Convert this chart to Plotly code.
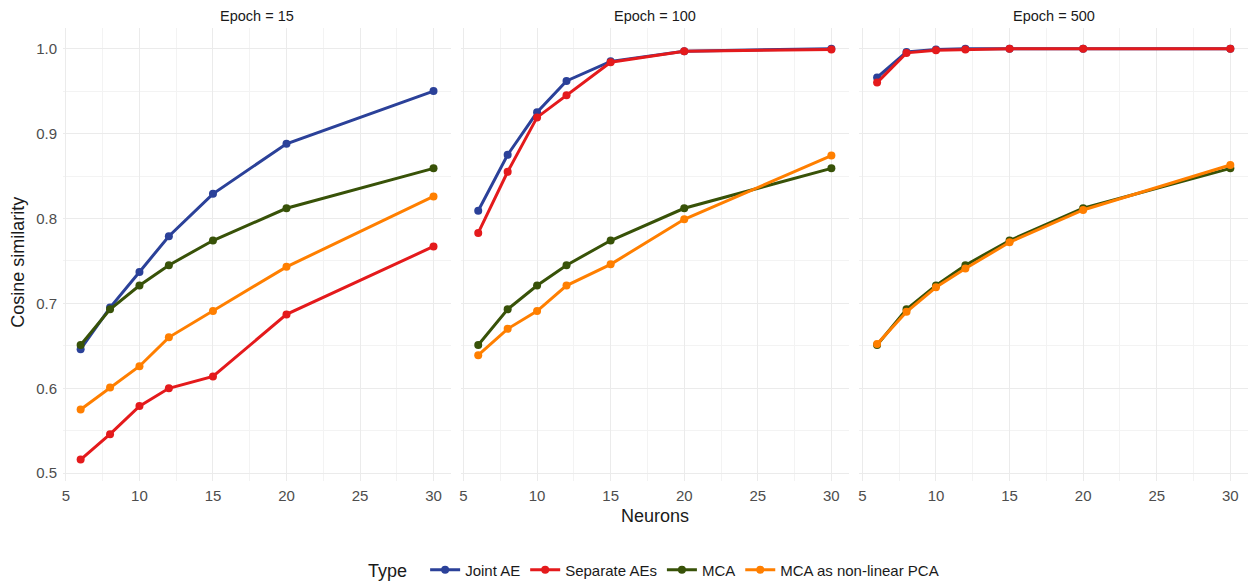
import plotly.graph_objects as go

neurons = [6, 8, 10, 12, 15, 20, 30]
epochs = ["15", "100", "500"]
types = ["Joint AE", "Separate AEs", "MCA", "MCA as non-linear PCA"]
colors = {"Joint AE": "#2B4199", "Separate AEs": "#E41A1C", "MCA": "#385208", "MCA as non-linear PCA": "#FF7F00"}

# values per epoch
joint_ae_15 = [0.646, 0.695, 0.737, 0.779, 0.829, 0.888, 0.950]
separate_15 = [0.516, 0.546, 0.579, 0.600, 0.614, 0.687, 0.767]
mca_15 = [0.651, 0.693, 0.721, 0.745, 0.774, 0.812, 0.859]
mca_pca_15 = [0.575, 0.601, 0.626, 0.660, 0.691, 0.743, 0.826]

joint_ae_100 = [0.809, 0.875, 0.925, 0.962, 0.985, 0.997, 1.000]
separate_100 = [0.783, 0.855, 0.919, 0.945, 0.984, 0.997, 0.999]
mca_100 = [0.651, 0.693, 0.721, 0.745, 0.774, 0.812, 0.859]
mca_pca_100 = [0.639, 0.670, 0.691, 0.721, 0.746, 0.799, 0.874]

joint_ae_500 = [0.966, 0.996, 0.999, 1.000, 1.000, 1.000, 1.000]
separate_500 = [0.960, 0.995, 0.998, 0.999, 1.000, 1.000, 1.000]
mca_500 = [0.651, 0.693, 0.721, 0.745, 0.774, 0.812, 0.859]
mca_pca_500 = [0.652, 0.690, 0.719, 0.741, 0.772, 0.810, 0.863]

data = {
    "15": [joint_ae_15, separate_15, mca_15, mca_pca_15],
    "100": [joint_ae_100, separate_100, mca_100, mca_pca_100],
    "500": [joint_ae_500, separate_500, mca_500, mca_pca_500],
}

# page is rendered with an 8px body margin
OFF = 8
W, H = 1256 - OFF, 584 - OFF
left_pg, right_pg, top_pg, bottom_pg = 62.7, 1248.1, 27.6, 480.6
ml = left_pg - OFF
mr = W - (right_pg - OFF)
mt = top_pg - OFF
mb = H - (bottom_pg - OFF)
pw = W - ml - mr
ph = H - mt - mb


def px_x(page_x):
    return (page_x - left_pg) / pw


def px_y(page_y):
    return (bottom_pg - page_y) / ph


domains = [
    [0.0, px_x(451.0)],
    [px_x(460.4), px_x(849.0)],
    [px_x(859.4), 1.0],
]

fig = go.Figure()
font = "Liberation Sans, Arial, sans-serif"

for i, ep in enumerate(epochs):
    xa = "x" if i == 0 else f"x{i+1}"
    ya = "y" if i == 0 else f"y{i+1}"
    for t, vals in zip(types, data[ep]):
        fig.add_trace(go.Scatter(
            x=neurons, y=vals, mode="lines+markers", name=t,
            line=dict(color=colors[t], width=3),
            marker=dict(color=colors[t], size=8),
            xaxis=xa, yaxis=ya, legendgroup=t, showlegend=(i == 0),
        ))

grid = "#EBEBEB"
axis_common = dict(
    range=[4.8, 31.2], tick0=5, dtick=5, showgrid=True, gridcolor=grid, gridwidth=1.1,
    zeroline=False, showline=False, ticks="", ticklen=0, automargin=False,
    ticklabelstandoff=4,
    tickfont=dict(family=font, size=15, color="#4D4D4D"),
    minor=dict(tick0=5, dtick=2.5, showgrid=True, gridcolor="#F3F3F3", gridwidth=0.6),
)
yaxis_common = dict(
    range=[0.4908, 1.0243], tick0=0.5, dtick=0.1, showgrid=True, gridcolor=grid, gridwidth=1.1,
    zeroline=False, showline=False, ticks="", tickformat=".1f", automargin=False,
    ticklabelstandoff=5,
    tickfont=dict(family=font, size=15, color="#4D4D4D"),
    minor=dict(tick0=0.5, dtick=0.05, showgrid=True, gridcolor="#F3F3F3", gridwidth=0.6),
)

layout = dict(
    width=W, height=H,
    margin=dict(l=ml, r=mr, t=mt, b=mb, autoexpand=False),
    plot_bgcolor="white", paper_bgcolor="white",
    font=dict(family=font, color="#1A1A1A"),
    showlegend=True,
    legend=dict(
        orientation="h", x=px_x(655), xanchor="center", y=px_y(570), yanchor="middle",
        title=dict(text="Type  ", font=dict(family=font, size=18, color="#1A1A1A"), side="left"),
        font=dict(family=font, size=15, color="#1A1A1A"),
        itemwidth=30, tracegroupgap=0,
    ),
)
for i in range(3):
    xk = "xaxis" if i == 0 else f"xaxis{i+1}"
    yk = "yaxis" if i == 0 else f"yaxis{i+1}"
    layout[xk] = dict(axis_common, domain=domains[i], anchor="y" if i == 0 else f"y{i+1}")
    ya = dict(yaxis_common, domain=[0, 1], anchor="x" if i == 0 else f"x{i+1}")
    if i > 0:
        ya["showticklabels"] = False
        ya["matches"] = "y"
    layout[yk] = ya

fig.update_layout(**layout)

annotations = []
for i, ep in enumerate(epochs):
    d = domains[i]
    annotations.append(dict(
        text=f"Epoch = {ep}", x=(d[0] + d[1]) / 2, y=px_y(15.5), xref="paper", yref="paper",
        xanchor="center", yanchor="middle", showarrow=False,
        font=dict(family=font, size=14.5, color="#1A1A1A"),
    ))
annotations.append(dict(
    text="Neurons", x=px_x(655), y=px_y(516), xref="paper", yref="paper",
    xanchor="center", yanchor="middle", showarrow=False,
    font=dict(family=font, size=18, color="#1A1A1A"),
))
annotations.append(dict(
    text="Cosine similarity", x=px_x(18), y=px_y(262), xref="paper", yref="paper",
    xanchor="center", yanchor="middle", textangle=-90, showarrow=False,
    font=dict(family=font, size=18, color="#1A1A1A"),
))
fig.update_layout(annotations=annotations)

fig.write_html("out.html")
